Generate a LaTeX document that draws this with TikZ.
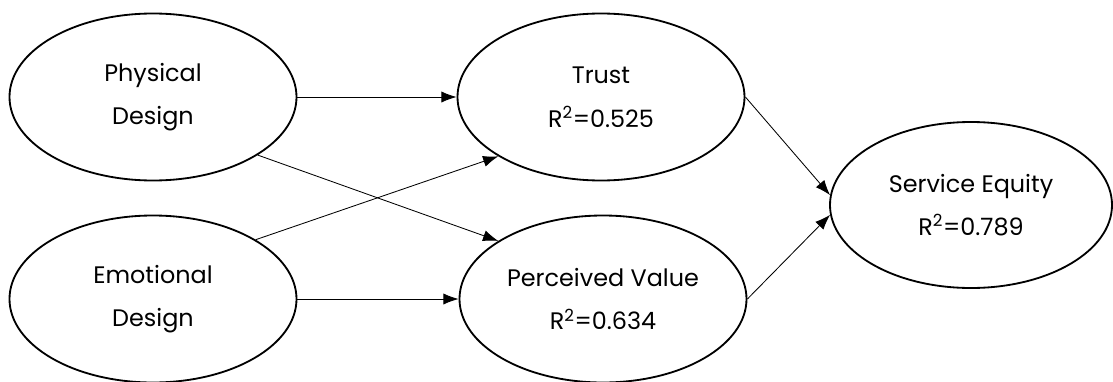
\documentclass[tikz,border=0pt]{standalone}
\usepackage{fontspec}
\setmainfont{Poppins}
\usetikzlibrary{shapes.geometric,arrows.meta}
\tikzset{
  construct/.style={draw, ellipse, line width=1.3pt, inner sep=0pt,
    minimum width=7.175cm, minimum height=4.175cm, align=center,
    font=\fontsize{17}{31}\selectfont},
  path/.style={-{Latex[length=3.8mm,width=2.8mm]}, line width=0.6pt}
}
\begin{document}
\begin{tikzpicture}
            \useasboundingbox (0, 0) rectangle (27.825, -9.525);
            \path (3.825, -2.425) coordinate (P);
            \path (15.025, -2.425) coordinate (T);
            \path (3.825, -7.475) coordinate (E);
            \path (15.075, -7.475) coordinate (V);
            \path (24.275, -5.125) coordinate (S);

            \node[construct] (phys) at (P) {Physical\\Design};
            \node[construct] (trust) at (T) {Trust\\R\textsuperscript{2}=0.525};
            \node[construct] (emo) at (E) {Emotional\\Design};
            \node[construct] (perc) at (V) {Perceived Value\\R\textsuperscript{2}=0.634};
            \node[construct, minimum width=7.05cm, minimum height=4.15cm] (equity) at (S) {Service Equity\\R\textsuperscript{2}=0.789};

            \draw[path] (phys.east) -- (trust.west);
            \draw[path] (phys.-29) -- (perc.151);
            \draw[path] (emo.30) -- (trust.-150);
            \draw[path] (emo.east) -- (perc.west);
            \draw[path] (trust.east) -- (equity.176);
            \draw[path] (perc.east) -- (equity.184);
        \end{tikzpicture}
\end{document}
